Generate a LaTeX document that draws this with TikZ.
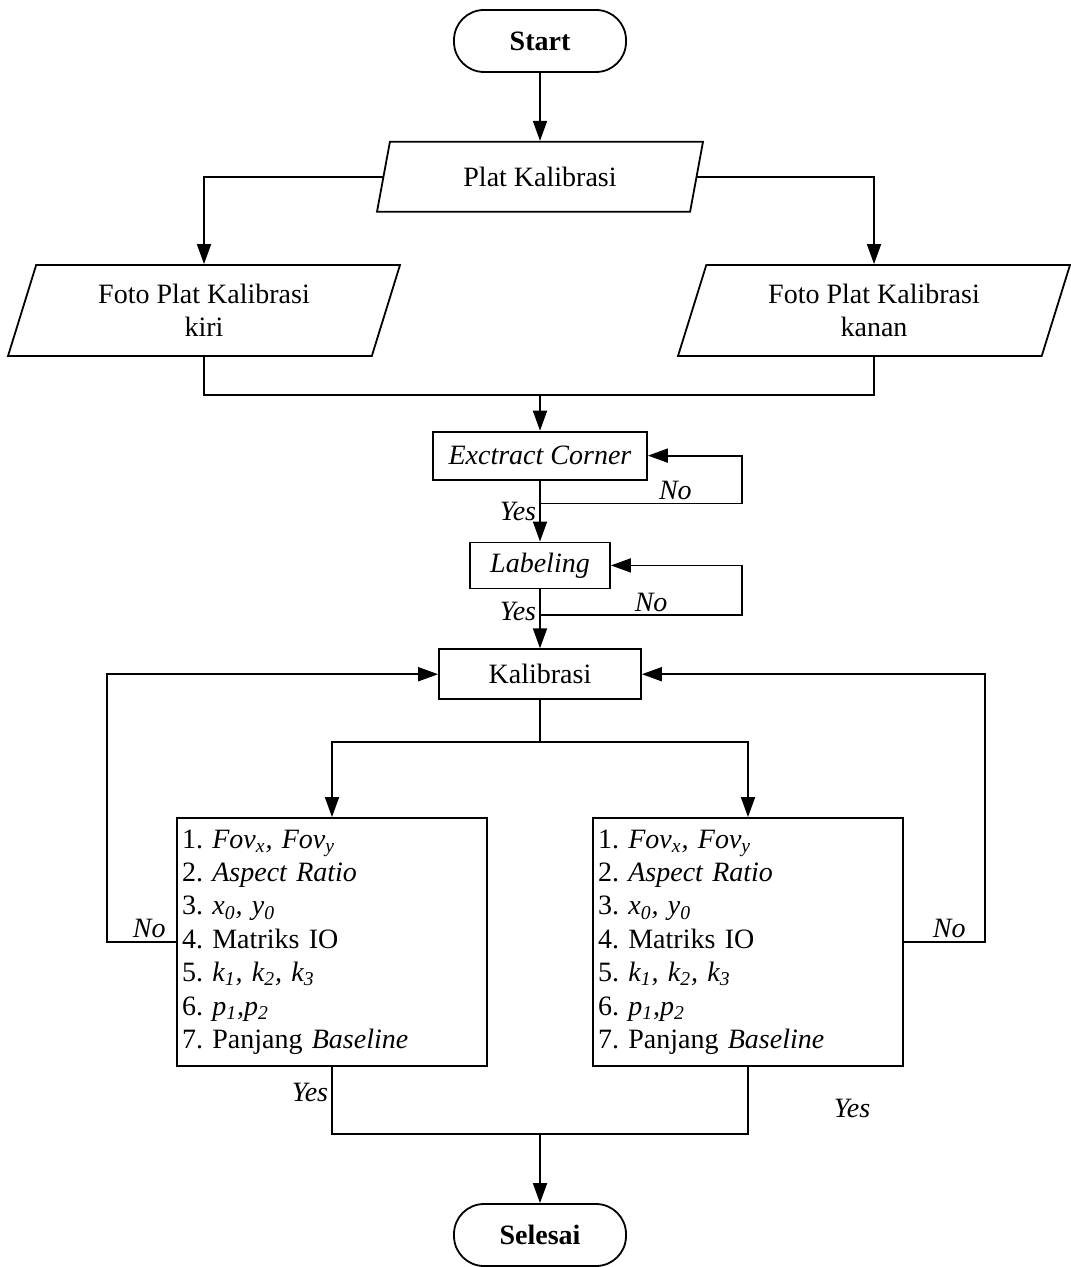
\documentclass[tikz,border=0pt]{standalone}
\usepackage{fontspec}
\setmainfont{Liberation Serif}
\usetikzlibrary{arrows.meta,positioning,shapes.geometric}
\frenchspacing

\begin{document}
\begin{tikzpicture}[
  x=1pt, y=1pt,
  line width=0.9pt,
  txt/.style={font=\fontsize{14pt}{16.5pt}\selectfont},
  term/.style={draw, rounded corners=15pt, minimum width=86pt, minimum height=31pt,
               txt, font=\fontsize{14pt}{16.5pt}\selectfont\bfseries},
  data/.style={draw, trapezium, trapezium left angle=65, trapezium right angle=115,
               trapezium stretches body, align=center, inner sep=2pt, txt},
  box/.style={draw, minimum height=24pt, inner sep=2pt, txt},
  list/.style={draw, minimum width=155pt, minimum height=124pt, text width=150pt,
               align=left, inner xsep=2.5pt, font=\fontsize{14pt}{16.7pt}\selectfont},
  lbl/.style={font=\fontsize{14pt}{16.5pt}\selectfont\itshape, inner sep=1.5pt},
  arr/.style={-{Triangle[length=10pt, width=7pt]}}
]
\useasboundingbox (0,0) rectangle (535,-633.5);

\node[term] (start) at (270,-20.5) {Start};
\node[data, minimum width=163pt, minimum height=35pt, below=34pt of start] (plat) {Plat Kalibrasi};
\node[data, minimum width=196pt, minimum height=45.5pt] (fotokiri) at (102,-155.25) {Foto Plat Kalibrasi\\kiri};
\node[data, minimum width=196pt, minimum height=45.5pt] (fotokanan) at (437,-155.25) {Foto Plat Kalibrasi\\kanan};
\node[box, minimum width=107pt, below=109pt of plat] (extract) {\textit{Exctract Corner}};
\node[box, minimum width=70pt, minimum height=23pt, below=30.5pt of extract] (labeling) {\textit{Labeling}};
\node[box, minimum width=101pt, minimum height=25pt, below=29.5pt of labeling] (kalib) {Kalibrasi};
\node[list] (listL) at (166,-471) {1. \textit{Fov\textsubscript{x}, Fov\textsubscript{y}}\\
  2. \textit{Aspect Ratio}\\
  3. \textit{x\textsubscript{0}, y\textsubscript{0}}\\
  4. Matriks IO\\
  5. \textit{k\textsubscript{1}, k\textsubscript{2}, k\textsubscript{3}}\\
  6. \textit{p\textsubscript{1},p\textsubscript{2}}\\
  7. Panjang \textit{Baseline}};
\node[list] (listR) at (374,-471) {1. \textit{Fov\textsubscript{x}, Fov\textsubscript{y}}\\
  2. \textit{Aspect Ratio}\\
  3. \textit{x\textsubscript{0}, y\textsubscript{0}}\\
  4. Matriks IO\\
  5. \textit{k\textsubscript{1}, k\textsubscript{2}, k\textsubscript{3}}\\
  6. \textit{p\textsubscript{1},p\textsubscript{2}}\\
  7. Panjang \textit{Baseline}};
\node[term, font=\fontsize{14pt}{16.5pt}\selectfont\bfseries] (selesai) at (270,-617.5) {Selesai};
\node[lbl] (yesR) at (426,-554) {Yes};

% helper points
\coordinate[above=18pt of extract] (join);
\coordinate[below=11.5pt of extract] (ya);
\coordinate[right=101pt of ya] (cornerA);
\coordinate[below=13pt of labeling] (yb);
\coordinate[right=101pt of yb] (cornerB);
\coordinate[below=21pt of kalib] (split);
\coordinate[left=34.5pt of listL.west] (cornerL);
\coordinate[right=40.5pt of listR.east] (cornerR);
\coordinate[above=34.5pt of selesai] (merge);

\draw[arr] (start) -- (plat);
\draw[arr] (plat.west) -| (fotokiri.north);
\draw[arr] (plat.east) -| (fotokanan.north);
\draw (fotokiri.south) |- (join) -| (fotokanan.south);
\draw[arr] (join) -- (extract);
\draw[arr] (extract) -- node[lbl, left, pos=0.5] {Yes} (labeling);
\draw[arr] (ya) -- node[lbl, above, pos=0.67] {No} (cornerA) |- (extract.east);
\draw[arr] (labeling) -- node[lbl, left, pos=0.37] {Yes} (kalib);
\draw[arr] (yb) -- node[lbl, above, pos=0.55] {No} (cornerB) |- (labeling.east);
\draw (kalib) -- (split);
\draw[arr] (split) -| (listL);
\draw[arr] (split) -| (listR);
\draw[arr] (listL.west) -- node[lbl, above, pos=0.39] {No} (cornerL) |- (kalib.west);
\draw[arr] (listR.east) -- node[lbl, above, pos=0.56] {No} (cornerR) |- (kalib.east);
\draw (listL.south) |- node[lbl, left, pos=0.19] {Yes} (merge) -| (listR.south);
\draw[arr] (merge) -- (selesai);
\end{tikzpicture}
\end{document}
